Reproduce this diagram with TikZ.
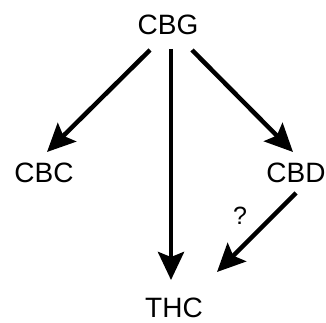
\documentclass[tikz,border=0pt]{standalone}
\usepackage{fontspec}
\setmainfont{Liberation Sans}
\usetikzlibrary{arrows.meta}
\begin{document}
\begin{tikzpicture}[x=1pt,y=-1pt,
  lbl/.style={inner sep=0pt, anchor=center, font=\fontsize{28}{30}\selectfont},
  qlbl/.style={inner sep=0pt, anchor=center, font=\fontsize{25}{27}\selectfont},
  arr/.style={line width=4.5pt, -{Stealth[length=28pt, width=26pt, inset=5pt]}}]
\useasboundingbox (0,0) rectangle (326,323);
\fill[white] (0,0) rectangle (326,323);
\node[lbl] (cbg) at (168,25) {CBG};
\node[lbl] (cbc) at (44,173) {CBC};
\node[lbl] (cbd) at (296,173) {CBD};
\node[lbl] (thc) at (174,307.5) {THC};
\node[qlbl] (q) at (240,216) {?};
\draw[arr] ([shift={(-18,25)}]cbg.center) -- ([shift={(3,-21)}]cbc.center);
\draw[arr] ([shift={(3,24)}]cbg.center) -- ([shift={(-3,-27.5)}]thc.center);
\draw[arr] ([shift={(24,25)}]cbg.center) -- ([shift={(-3,-21)}]cbd.center);
\draw[arr] ([shift={(0,20)}]cbd.center) -- ([shift={(43,-35.5)}]thc.center);
\end{tikzpicture}
\end{document}
